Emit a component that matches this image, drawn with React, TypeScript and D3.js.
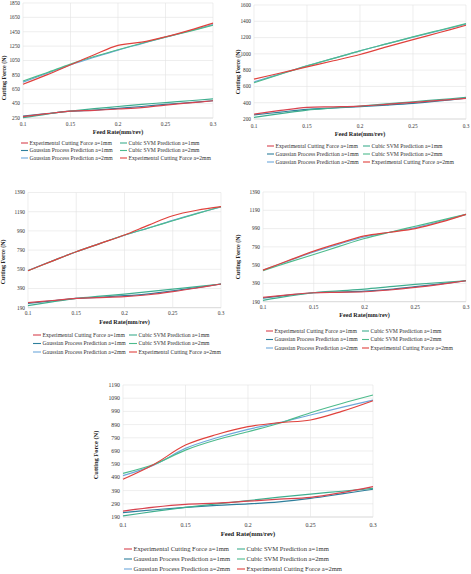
import React from "react";
import * as d3 from "d3";

// feed rates (mm/rev) where values were read
const FEED = [0.1, 0.125, 0.15, 0.175, 0.2, 0.225, 0.25, 0.275, 0.3];
const X_TICKS = [0.1, 0.15, 0.2, 0.25, 0.3];

const LEGEND = [
  "Experimental Cutting Force a=1mm",
  "Cubic SVM Prediction a=1mm",
  "Gaussian Process Prediction a=1mm",
  "Cubic SVM Prediction a=2mm",
  "Gaussian Process Prediction a=2mm",
  "Experimental Cutting Force a=2mm",
];
const COLORS = ["#d8434f", "#3fae8f", "#2e7f9c", "#4dbb8c", "#6ea8da", "#e0413c"];
// order series are painted in (reds last)
const DRAW_ORDER = [2, 4, 1, 3, 0, 5];

// panel 1 (top left)
const p1Exp1 = [270, 310, 345, 355, 375, 395, 430, 460, 490];
const p1Svm1 = [255, 305, 345, 380, 410, 440, 465, 490, 515];
const p1Gp1 = [275, 310, 345, 360, 385, 410, 440, 465, 490];
const p1Svm2 = [765, 880, 1000, 1105, 1200, 1290, 1375, 1455, 1540];
const p1Gp2 = [750, 870, 990, 1095, 1195, 1285, 1375, 1460, 1550];
const p1Exp2 = [720, 850, 990, 1130, 1260, 1305, 1380, 1470, 1570];
const p1YTicks = [250, 450, 650, 850, 1050, 1250, 1450, 1650, 1850];

// panel 2 (top right)
const p2Exp1 = [261, 305, 343, 350, 359, 380, 404, 428, 453];
const p2Svm1 = [220, 265, 310, 335, 359, 385, 412, 438, 465];
const p2Gp1 = [250, 285, 318, 335, 351, 370, 392, 422, 457];
const p2Svm2 = [645, 750, 853, 945, 1037, 1122, 1208, 1290, 1371];
const p2Gp2 = [655, 755, 853, 945, 1037, 1122, 1205, 1285, 1365];
const p2Exp2 = [690, 765, 841, 915, 992, 1085, 1175, 1262, 1351];
const p2YTicks = [200, 400, 600, 800, 1000, 1200, 1400, 1600];

// panel 3 (middle left)
const p3Exp1 = [242, 265, 287, 295, 305, 325, 357, 395, 437];
const p3Svm1 = [211, 250, 287, 310, 332, 358, 384, 410, 437];
const p3Gp1 = [235, 262, 287, 300, 315, 335, 365, 400, 437];
const p3Svm2 = [575, 675, 773, 860, 947, 1020, 1096, 1170, 1242];
const p3Gp2 = [578, 677, 773, 860, 945, 1022, 1100, 1172, 1240];
const p3Exp2 = [575, 675, 773, 860, 947, 1050, 1148, 1205, 1242];
const p3YTicks = [190, 390, 590, 790, 990, 1190, 1390];

// panel 4 (middle right)
const p4Exp1 = [237, 265, 288, 293, 299, 318, 346, 380, 419];
const p4Svm1 = [205, 250, 288, 308, 328, 354, 379, 400, 419];
const p4Gp1 = [230, 262, 288, 296, 305, 325, 355, 385, 419];
const p4Svm2 = [530, 620, 706, 795, 881, 950, 1015, 1080, 1146];
const p4Gp2 = [535, 635, 735, 820, 900, 950, 1000, 1070, 1146];
const p4Exp2 = [535, 640, 743, 830, 910, 950, 990, 1060, 1146];
const p4YTicks = [190, 390, 590, 790, 990, 1190, 1390];

// panel 5 (bottom)
const p5Exp1 = [235, 265, 286, 295, 310, 325, 339, 375, 420];
const p5Svm1 = [198, 232, 263, 290, 314, 340, 364, 385, 407];
const p5Gp1 = [223, 245, 263, 278, 289, 305, 331, 365, 400];
const p5Svm2 = [521, 590, 697, 775, 836, 900, 980, 1050, 1114];
const p5Gp2 = [503, 585, 710, 790, 854, 905, 963, 1020, 1076];
const p5Exp2 = [476, 590, 735, 815, 874, 905, 925, 990, 1071];
const p5YTicks = [190, 290, 390, 490, 590, 690, 790, 890, 990, 1090, 1190];

const FONT = "'Liberation Serif', 'Times New Roman', serif";

interface IPanel {
  x0: number;
  x1: number;
  y0: number;
  y1: number;
  yTicks: number[];
  series: number[][];
  tickY: number;
  titleY: number;
  yTitleX: number;
  yTitleY: number;
  legX: number[];
  legY: number[];
  legLen: number;
  fs: number;
  legFs: number;
}

const Panel = (p: IPanel) => {
  const x = d3.scaleLinear().domain([0.1, 0.3]).range([p.x0, p.x1]);
  const y = d3
    .scaleLinear()
    .domain([p.yTicks[0], p.yTicks[p.yTicks.length - 1]])
    .range([p.y1, p.y0]);
  const line = d3
    .line<number>()
    .x((d, i) => x(FEED[i]))
    .y((d) => y(d))
    .curve(d3.curveCatmullRom);

  return (
    <g>
      {p.yTicks.map((t) => (
        <g key={"y" + t}>
          <line x1={p.x0} x2={p.x1} y1={y(t)} y2={y(t)} stroke={t === p.yTicks[0] ? "#bdbdbd" : "#e3e3e3"} strokeWidth={0.6} />
          <text x={p.x0 - 3} y={y(t) + p.fs * 0.35} fontSize={p.fs} textAnchor="end" fill="#333">
            {t}
          </text>
        </g>
      ))}
      {X_TICKS.map((t) => (
        <g key={"x" + t}>
          <line x1={x(t)} x2={x(t)} y1={p.y0} y2={p.y1} stroke="#e3e3e3" strokeWidth={0.6} />
          <text x={x(t)} y={p.tickY} fontSize={p.fs} textAnchor="middle" fill="#333">
            {t}
          </text>
        </g>
      ))}
      {DRAW_ORDER.map((i) => (
        <path key={"s" + i} d={line(p.series[i]) || ""} fill="none" stroke={COLORS[i]} strokeWidth={1.2} />
      ))}
      <text x={(p.x0 + p.x1) / 2} y={p.titleY} fontSize={p.fs + 0.8} fontWeight="bold" textAnchor="middle" fill="#222">
        Feed Rate(mm/rev)
      </text>
      <text
        transform={`translate(${p.yTitleX},${p.yTitleY}) rotate(-90)`}
        fontSize={p.fs + 0.6}
        fontWeight="bold"
        textAnchor="middle"
        fill="#222"
      >
        Cutting Force (N)
      </text>
      {LEGEND.map((name, i) => {
        const lx = p.legX[i % 2];
        const ly = p.legY[Math.floor(i / 2)];
        return (
          <g key={"l" + i}>
            <line x1={lx} x2={lx + p.legLen} y1={ly} y2={ly} stroke={COLORS[i]} strokeWidth={1.1} />
            <text x={lx + p.legLen + 1.5} y={ly + p.legFs * 0.33} fontSize={p.legFs} fill="#333">
              {name}
            </text>
          </g>
        );
      })}
    </g>
  );
};

const App = () => {
  return (
    <svg
      width={471}
      height={574}
      style={{ position: "absolute", left: 0, top: 0, background: "#fff" }}
      fontFamily={FONT}
    >
      <Panel
        x0={23} x1={213} y0={3} y1={118}
        yTicks={p1YTicks}
        series={[p1Exp1, p1Svm1, p1Gp1, p1Svm2, p1Gp2, p1Exp2]}
        tickY={126} titleY={134} yTitleX={6} yTitleY={78}
        legX={[21, 120]} legY={[143, 150.5, 158]} legLen={7}
        fs={5.3} legFs={5.7}
      />
      <Panel
        x0={254} x1={466} y0={5} y1={119}
        yTicks={p2YTicks}
        series={[p2Exp1, p2Svm1, p2Gp1, p2Svm2, p2Gp2, p2Exp2]}
        tickY={127.5} titleY={135.5} yTitleX={240} yTitleY={72}
        legX={[267, 363]} legY={[146, 154, 162]} legLen={7}
        fs={5.3} legFs={5.7}
      />
      <Panel
        x0={28} x1={221} y0={192.5} y1={307.7}
        yTicks={p3YTicks}
        series={[p3Exp1, p3Svm1, p3Gp1, p3Svm2, p3Gp2, p3Exp2]}
        tickY={315} titleY={323.5} yTitleX={5} yTitleY={262}
        legX={[33, 129]} legY={[335, 343.5, 352]} legLen={8}
        fs={5.3} legFs={5.7}
      />
      <Panel
        x0={263} x1={466} y0={192} y1={301.7}
        yTicks={p4YTicks}
        series={[p4Exp1, p4Svm1, p4Gp1, p4Svm2, p4Gp2, p4Exp2]}
        tickY={309} titleY={317} yTitleX={240} yTitleY={257}
        legX={[266, 362]} legY={[331, 339.5, 348]} legLen={7}
        fs={5.3} legFs={5.7}
      />
      <Panel
        x0={123} x1={373} y0={385} y1={517}
        yTicks={p5YTicks}
        series={[p5Exp1, p5Svm1, p5Gp1, p5Svm2, p5Gp2, p5Exp2]}
        tickY={527} titleY={536} yTitleX={98} yTitleY={455}
        legX={[124, 237]} legY={[549, 559, 569]} legLen={8}
        fs={5.8} legFs={6.6}
      />
    </svg>
  );
};

export default App;
